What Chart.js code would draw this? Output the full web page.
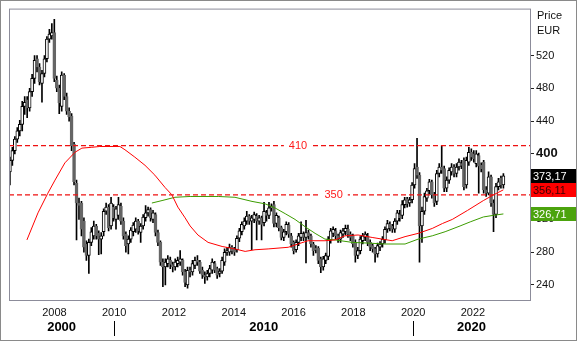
<!DOCTYPE html>
<html>
<head>
<meta charset="utf-8">
<script src="https://cdn.jsdelivr.net/npm/chart.js@4.4.1/dist/chart.umd.min.js"></script>
<style>
  html, body { margin: 0; padding: 0; background: #fff; }
</style>
</head>
<body>
<canvas id="priceChart" width="578" height="342"></canvas>
<script>
// Monatliche Kerzen (Open / High / Low / Close)
const opens = [
  378,392,404,418,428,436,458,466,456,476, 492,516,506,486,498,516,540,544,548,490,
  480,458,496,470,452,446,412,364,340,340, 318,290,276,292,300,312,303,296,305,330,
  335,312,335,320,325,336,318,302,290,296, 305,308,318,304,312,322,328,332,320,326,
  304,292,268,262,266,270,265,262,266,268, 270,256,240,258,256,264,270,268,258,252,
  250,254,258,266,260,254,257,268,280,280, 286,284,283,297,305,312,318,324,318,320,
  324,318,322,316,328,325,334,338,315,322, 310,298,305,313,300,292,283,292,298,302,
  298,304,300,290,285,285,272,262,270,275, 295,303,306,300,296,302,305,308,302,300,
  292,276,282,294,298,300,292,288,284,278, 286,290,295,308,314,312,308,318,326,325,
  338,345,340,344,362,384,374,312,330,346, 355,366,350,342,376,384,382,358,368,378,
  384,376,384,388,392,362,390,402,400,388, 398,386,390,356,352,372,340,326,360,370,
  362
];
const highs = [
  396,408,421,432,441,464,470,470,480,497, 520,520,510,502,520,543,552,559,564,495,
  484,500,498,474,456,449,414,368,346,342, 322,294,296,310,318,314,306,304,333,340,
  338,347,338,336,347,340,322,305,300,310, 316,322,320,315,326,337,335,334,331,328,
  307,294,272,272,276,274,268,272,274,282, 272,259,262,262,270,274,276,270,262,256,
  258,264,272,269,262,260,274,284,286,290, 288,286,300,309,317,322,330,326,325,329,
  327,325,324,341,331,341,339,342,328,324, 312,308,317,316,303,294,295,303,317,305,
  319,307,302,292,288,287,274,275,279,299, 309,311,309,302,307,309,313,313,305,302,
  295,286,299,303,305,303,295,290,286,291, 293,299,311,319,317,314,321,331,331,343,
  347,347,347,365,388,419,377,335,352,358, 369,368,353,380,388,410,385,372,383,388,
  387,388,394,392,395,396,408,406,404,404, 401,389,392,360,378,374,344,364,370,373,
  376
];
const lows = [
  362,386,400,414,422,428,448,444,452,470, 486,500,484,463,494,512,536,540,488,476,
  449,452,466,448,440,404,362,295,320,300, 280,270,254,288,296,296,277,278,300,326,
  306,308,318,308,320,314,296,280,278,292, 300,304,302,292,308,318,324,318,316,300,
  288,264,238,240,262,260,256,258,262,264, 252,238,236,250,252,260,264,254,248,242,
  246,250,254,255,248,250,254,264,276,276, 278,276,280,293,301,308,314,314,283,316,
  295,314,295,312,318,321,330,311,311,306, 295,294,301,298,286,278,280,288,294,294,
  267,296,286,276,279,266,255,258,266,271, 291,299,296,292,292,298,301,298,294,286,
  268,272,278,290,294,288,282,280,268,274, 282,286,291,304,306,304,304,314,318,321,
  334,335,336,340,358,370,268,292,326,342, 351,346,336,338,372,376,354,354,364,374,
  372,372,380,382,356,358,386,392,390,384, 352,378,352,348,350,336,305,322,356,358,
  358
];
const closes = [
  392,404,418,428,436,458,463,456,476,492, 514,506,488,498,516,540,546,548,492,480,
  462,496,470,452,445,410,366,340,337,308, 286,276,292,305,312,300,296,300,330,335,
  310,340,322,333,338,318,300,288,296,307, 313,318,306,312,323,328,332,322,328,304,
  292,268,262,268,272,265,262,268,270,272, 256,243,258,256,266,270,268,257,252,250,
  254,260,268,258,252,257,270,280,282,286, 282,280,297,306,314,318,324,318,322,326,
  318,322,314,330,325,334,336,315,325,310, 298,305,314,302,290,282,292,300,303,298,
  304,300,290,282,283,270,262,272,276,296, 306,308,300,296,304,306,309,302,298,290,
  276,282,296,300,302,292,286,284,278,288, 290,296,308,315,310,308,318,328,322,338,
  344,339,344,362,382,374,312,330,348,355, 366,350,340,376,384,380,358,368,380,384,
  376,384,390,386,360,392,402,396,394,400, 385,382,356,352,372,340,326,360,366,362,
  373.17
];
const firstBarYear = 2006.51;
const barStepYears = 0.08255;

// Gleitende Durchschnitte (rot / gruen)
const maRedYears = [2007.08,2007.45,2007.78,2008.02,2008.35,2008.69,2008.92,2009.25,2009.52,2010.19,
  2010.36,2010.69,2011.03,2011.36,2011.70,2011.93,2012.13,2012.37,2012.54,2012.80,2013.14,2013.61,
  2014.04,2014.38,2014.71,2015.15,2015.82,2016.15,2016.48,2017.05,2017.39,2017.72,2018.16,2018.63,
  2019.30,2019.73,2020.17,2020.64,2020.98,2021.31,2021.82,2022.35,2022.69,2023.02];
const maRedValues = [295,328,352,368,389,402,407,408,409,409,
  405,396,386,374,359,350,335,322,312,301,292,287,
  284,281,283,284,286,290,294,294,295,300,301,298,
  294,299,303,309,315,320,331,343,350,356.11];
const maGreenYears = [2011.26,2011.60,2012.03,2012.54,2013.48,2014.04,2014.61,2015.05,2015.38,2015.72,
  2016.05,2016.39,2016.72,2017.05,2017.39,2017.96,2018.56,2019.06,2019.73,2020.17,2020.64,2021.07,
  2021.57,2021.91,2022.35,2022.69,2023.02];
const maGreenValues = [340,343,347,348,348,347,342,339,334,327,
  320,311,303,296,295,292,291,290,290,296,300,305,
  312,317,323,325,326.71];

// Horizontale Linien und Achsen
const levelValues = [410, 350];
const yearTicks = [2008, 2010, 2012, 2014, 2016, 2018, 2020, 2022];
const decadeStarts = [2000, 2010, 2020];
const decadeLabels = ['2000', '2010', '2020'];
const priceTicks = [240, 280, 320, 360, 400, 440, 480, 520];
const lastValues = [373.17, 356.11, 326.71];
const lastBoxColors = ['#000000', '#ff0000', '#4ba30d'];
const lastTextColors = ['#ffffff', '#3a0000', '#ffffff'];

const family = '"Liberation Sans", Arial, sans-serif';
const xMin = 2006.48, xMax = 2023.91;
const yMin = 221.7, yMax = 577.2;

const barYear = i => firstBarYear + i * barStepYears;
const isUp = i => closes[i] >= opens[i];

const wickData = closes.map((c, i) => ({ x: barYear(i), y: [lows[i], highs[i]] }));
const bodyData = closes.map((c, i) => ({ x: barYear(i), y: [opens[i], c] }));

const levelSets = levelValues.map(v => ({
  type: 'line',
  data: [{ x: xMin, y: v }, { x: xMax, y: v }],
  borderColor: '#ee1111',
  borderWidth: 1.4,
  borderDash: [5, 3],
  pointRadius: 0,
  order: 0
}));

// Beschriftungen, Rahmen, letzte Werte
const decorPlugin = {
  id: 'decor',
  afterDraw(chart) {
    const c = chart.ctx, a = chart.chartArea;
    const xs = chart.scales.x, ys = chart.scales.y;
    c.save();

    // Labels mitten in den gestrichelten Linien
    const labelAt = [2016.15, 2017.34];
    c.font = '11px ' + family;
    c.textAlign = 'center';
    c.textBaseline = 'middle';
    levelValues.forEach((v, k) => {
      const px = xs.getPixelForValue(labelAt[k]);
      const py = ys.getPixelForValue(v);
      const w = c.measureText(String(v)).width + 10;
      c.fillStyle = '#fff';
      c.fillRect(px - w / 2, py - 3, w, 6);
      c.fillStyle = '#ff1a1a';
      c.fillText(String(v), px, py + 0.5);
    });

    // Rahmen um den Plotbereich
    c.strokeStyle = '#8c8c9a';
    c.lineWidth = 1;
    c.strokeRect(a.left + 0.5, a.top + 0.5, a.right - a.left, a.bottom - a.top);

    // Aeusserer Rahmen
    c.strokeStyle = '#8a8a8a';
    c.strokeRect(0.5, 0.5, 576, 340);

    // Jahrzehnt-Trenner
    c.strokeStyle = '#000';
    [2010, 2020].forEach(y => {
      const px = Math.round(xs.getPixelForValue(y)) + 0.5;
      c.beginPath();
      c.moveTo(px, 321);
      c.lineTo(px, 336);
      c.stroke();
    });

    // Achsentitel
    c.fillStyle = '#111';
    c.font = '11px ' + family;
    c.textAlign = 'left';
    c.fillText('Price', 537, 16);
    c.fillText('EUR', 537, 31);

    // Kaesten mit den letzten Werten
    c.font = '11px ' + family;
    lastValues.forEach((v, k) => {
      const py = ys.getPixelForValue(v);
      c.fillStyle = lastBoxColors[k];
      c.fillRect(a.right + 1, Math.round(py) - 7, 45, 14);
      c.fillStyle = lastTextColors[k];
      c.fillText(v.toFixed(2).replace('.', ','), a.right + 3, Math.round(py) + 0.5);
    });
    c.restore();
  }
};

const ctx = document.getElementById('priceChart').getContext('2d');
new Chart(ctx, {
  type: 'bar',
  data: {
    datasets: [
      {
        data: wickData,
        backgroundColor: '#000',
        borderWidth: 0,
        barThickness: 1,
        grouped: false,
        order: 3
      },
      {
        data: bodyData,
        backgroundColor: closes.map((c, i) => isUp(i) ? '#ffffff' : '#666666'),
        borderColor: closes.map((c, i) => isUp(i) ? '#000000' : '#666666'),
        borderWidth: 1,
        borderSkipped: false,
        barThickness: 3,
        grouped: false,
        order: 2
      },
      {
        type: 'line',
        data: maRedYears.map((x, i) => ({ x: x, y: maRedValues[i] })),
        borderColor: '#ff0000',
        borderWidth: 1,
        pointRadius: 0,
        order: 1
      },
      {
        type: 'line',
        data: maGreenYears.map((x, i) => ({ x: x, y: maGreenValues[i] })),
        borderColor: '#3c9c00',
        borderWidth: 1,
        pointRadius: 0,
        order: 1
      },
      ...levelSets
    ]
  },
  options: {
    responsive: false,
    animation: false,
    layout: { padding: { left: 9, top: 8, right: 0, bottom: 0 } },
    plugins: { legend: { display: false }, tooltip: { enabled: false } },
    scales: {
      x: {
        type: 'linear',
        position: 'bottom',
        min: xMin, max: xMax,
        offset: false,
        bounds: 'data',
        weight: 0,
        grid: { display: false, drawTicks: false },
        border: { display: false },
        afterBuildTicks: s => { s.ticks = yearTicks.map(v => ({ value: v })); },
        ticks: {
          autoSkip: false, maxRotation: 0, padding: 6,
          color: '#111', font: { size: 11, family: family },
          callback: v => String(v)
        },
        afterFit: s => { s.height = 20; }
      },
      decade: {
        type: 'linear',
        axis: 'x',
        position: 'bottom',
        min: xMin, max: xMax,
        offset: false,
        bounds: 'data',
        weight: 1,
        grid: { display: false, drawTicks: false },
        border: { display: false },
        afterBuildTicks: s => {
          s.ticks = decadeStarts.map(d => ({ value: (Math.max(d, xMin) + Math.min(d + 10, xMax)) / 2 }));
        },
        ticks: {
          autoSkip: false, maxRotation: 0, padding: 0,
          color: '#000', font: { size: 13, weight: 'bold', family: family },
          callback: (v, i) => decadeLabels[i]
        },
        afterFit: s => { s.height = 22; }
      },
      y: {
        position: 'right',
        min: yMin, max: yMax,
        bounds: 'data',
        grid: { drawOnChartArea: false, drawTicks: true, tickLength: 4, color: '#222' },
        border: { display: false },
        afterBuildTicks: s => { s.ticks = priceTicks.map(v => ({ value: v })); },
        ticks: {
          padding: 2,
          color: '#111',
          font: c => c.tick && c.tick.value === 400
            ? { size: 13, weight: 'bold', family: family }
            : { size: 11, family: family },
          callback: v => String(v)
        },
        afterFit: s => { s.width = 48; }
      }
    }
  },
  plugins: [decorPlugin]
});
</script>
</body>
</html>
